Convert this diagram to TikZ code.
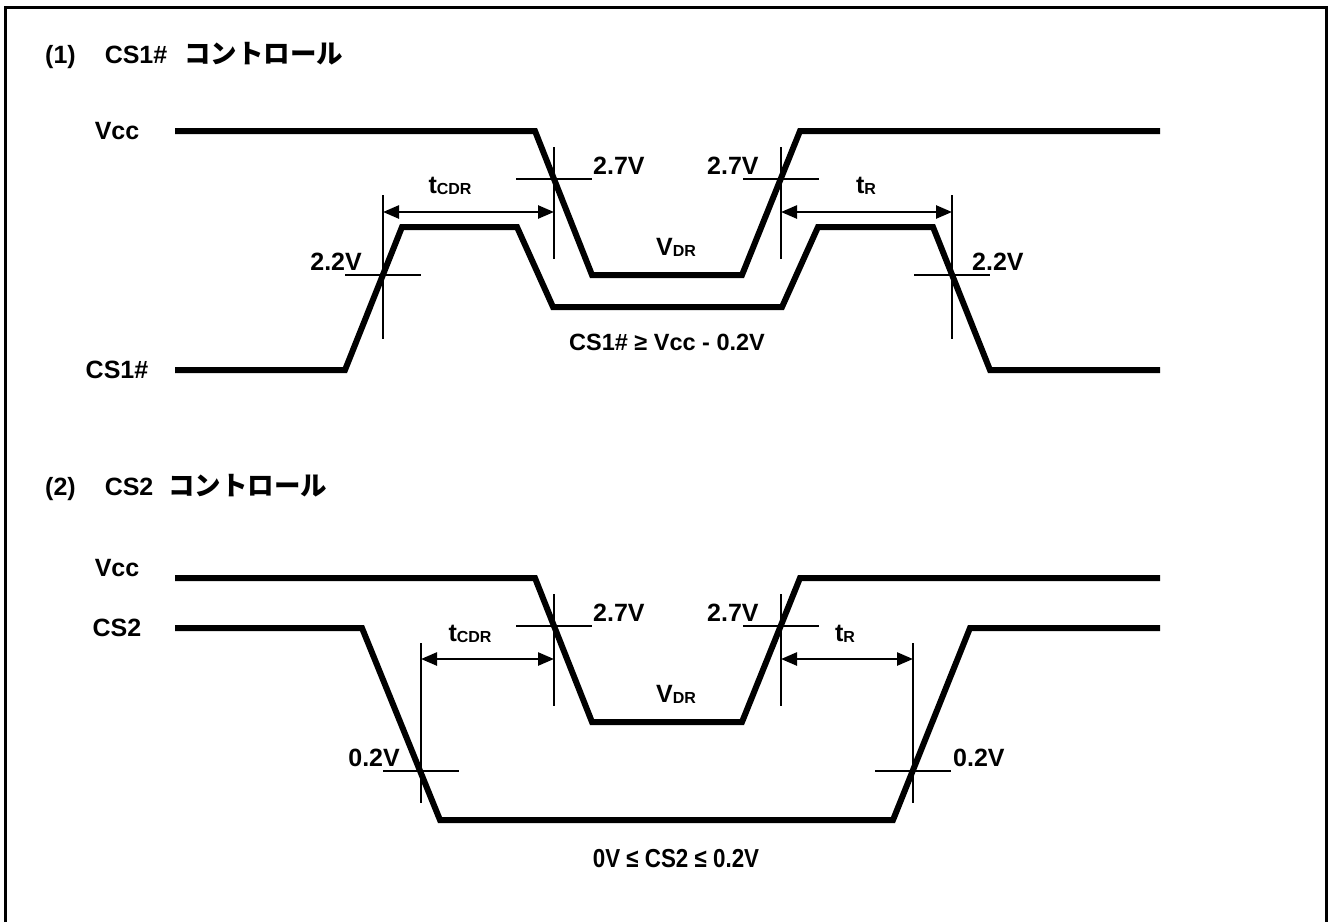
\documentclass[tikz,border=0pt]{standalone}
\usepackage{fontspec}
\setmainfont{Liberation Sans}
\newfontfamily\jpfont{Noto Sans CJK JP}
\usetikzlibrary{arrows.meta}
\newcommand{\lsub}[1]{\raisebox{-1pt}{\fontsize{16}{18}\selectfont #1}}
\newcommand{\kana}[1]{{\jpfont\fontsize{26.5}{30}\selectfont #1}}
\begin{document}
\begin{tikzpicture}[x=1pt,y=-1pt,
		sig/.style={line width=6pt},
		tickline/.style={line width=2.5pt},
		dim/.style={line width=2.5pt,{Triangle[length=16pt,width=13pt]}-{Triangle[length=16pt,width=13pt]}},
		lbl/.style={font=\fontsize{25}{30}\selectfont\bfseries,inner sep=0pt},
		note/.style={font=\fontsize{23.5}{28}\selectfont\bfseries,inner sep=0pt}]
	\useasboundingbox (0,0) rectangle (1328,922);
	\draw[line width=3pt] (5,922) -- (5,7) -- (1326,7) -- (1326,922);

	% (1) CS1# control
	\node[lbl,anchor=base west] (title1) at (45,63) {(1)\hspace{29pt}CS1\#\hspace{17pt}\kana{コントロール}};
	\node[lbl] (vcc1) at (117,131) {Vcc};
	\node[lbl] (cs1) at (117,370) {CS1\#};
	\draw[sig] (175,131) -- (535,131) -- (592,275) -- (742,275) -- (800,131) -- (1160,131);
	\draw[sig] (175,370) -- (345,370) -- (402,227) -- (517,227) -- (553,307) -- (782,307)
		-- (818,227) -- (933,227) -- (990,370) -- (1160,370);
	\coordinate (a1) at (383,275);
	\coordinate (b1) at (554,179);
	\coordinate (c1) at (781,179);
	\coordinate (d1) at (952,275);
	\coordinate (ar1) at (0,212);
	\foreach \p in {a1,d1} {
		\draw[tickline] ([xshift=-38pt]\p) -- ([xshift=38pt]\p);
		\draw[tickline] ([yshift=80pt]\p) -- ([yshift=-64pt]\p);
	}
	\foreach \p in {b1,c1} {
		\draw[tickline] ([xshift=-38pt]\p) -- ([xshift=38pt]\p);
		\draw[tickline] ([yshift=32pt]\p) -- ([yshift=-80pt]\p);
	}
	\draw[dim] (a1 |- ar1) -- (b1 |- ar1);
	\draw[dim] (c1 |- ar1) -- (d1 |- ar1);
	\node[lbl,anchor=base] (tcdr1) at (450,193) {t\lsub{CDR}};
	\node[lbl,anchor=base] (tr1) at (866,193) {t\lsub{R}};
	\node[lbl,anchor=south east] (v22a) at (362,271) {2.2V};
	\node[lbl,anchor=south west] (v27a) at (593,175) {2.7V};
	\node[lbl,anchor=south west] (v27b) at (707,175) {2.7V};
	\node[lbl,anchor=south west] (v22b) at (972,271) {2.2V};
	\node[lbl,anchor=base] (vdr1) at (676,255) {V\lsub{DR}};
	\node[note,anchor=base] (cond1) at (667,350) {CS1\# ≥ Vcc - 0.2V};

	% (2) CS2 control
	\node[lbl,anchor=base west] (title2) at (45,495) {(2)\hspace{29pt}CS2\hspace{15pt}\kana{コントロール}};
	\node[lbl] (vcc2) at (117,568) {Vcc};
	\node[lbl] (cs2) at (117,628) {CS2};
	\draw[sig] (175,578) -- (535,578) -- (592,722) -- (742,722) -- (800,578) -- (1160,578);
	\draw[sig] (175,628) -- (362,628) -- (440,820) -- (893,820) -- (970,628) -- (1160,628);
	\coordinate (a2) at (421,771);
	\coordinate (b2) at (554,626);
	\coordinate (c2) at (781,626);
	\coordinate (d2) at (913,771);
	\coordinate (ar2) at (0,659);
	\foreach \p in {a2,d2} {
		\draw[tickline] ([xshift=-38pt]\p) -- ([xshift=38pt]\p);
		\draw[tickline] ([yshift=128pt]\p) -- ([yshift=-32pt]\p);
	}
	\foreach \p in {b2,c2} {
		\draw[tickline] ([xshift=-38pt]\p) -- ([xshift=38pt]\p);
		\draw[tickline] ([yshift=32pt]\p) -- ([yshift=-80pt]\p);
	}
	\draw[dim] (a2 |- ar2) -- (b2 |- ar2);
	\draw[dim] (c2 |- ar2) -- (d2 |- ar2);
	\node[lbl,anchor=base] (tcdr2) at (470,641) {t\lsub{CDR}};
	\node[lbl,anchor=base] (tr2) at (845,641) {t\lsub{R}};
	\node[lbl,anchor=south east] (v02a) at (400,767) {0.2V};
	\node[lbl,anchor=south west] (v27c) at (593,622) {2.7V};
	\node[lbl,anchor=south west] (v27d) at (707,622) {2.7V};
	\node[lbl,anchor=south west] (v02b) at (953,767) {0.2V};
	\node[lbl,anchor=base] (vdr2) at (676,702) {V\lsub{DR}};
	\node[note,anchor=base] (cond2) at (676,867) {\fontsize{26}{30}\selectfont\scalebox{0.86}[1]{0V ≤ CS2 ≤ 0.2V}};
\end{tikzpicture}
\end{document}
